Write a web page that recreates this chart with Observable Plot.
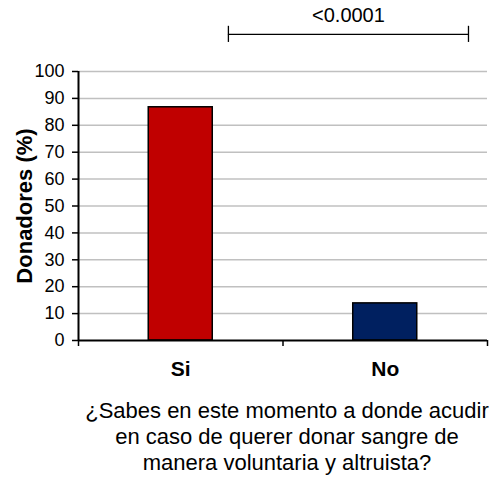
<!DOCTYPE html>
<html>
<head>
<meta charset="utf-8">
<script src="https://cdn.jsdelivr.net/npm/d3@7"></script>
<script src="https://cdn.jsdelivr.net/npm/@observablehq/plot@0.6"></script>
<style>
  body { margin: 0; background: #fff; font-family: "Liberation Sans", Arial, sans-serif; }
  #caption { width: 426px; padding-left: 74px; text-align: center; font-size: 22px; line-height: 26px; color: #000; }
</style>
</head>
<body>
<div id="chart"></div>
<div id="caption">¿Sabes en este momento a donde acudir<br>en caso de querer donar sangre de<br>manera voluntaria y altruista?</div>
<script>
const categories = ["Si", "No"];
const values = [86.7, 13.8];
const colors = ["#C00000", "#002060"];
const yTicks = [0, 10, 20, 30, 40, 50, 60, 70, 80, 90, 100];
const yLabel = "Donadores (%)";
// significance bracket (x in category-index units, y in %)
const bracketFrom = [0.733];
const bracketTo = [1.907];
const bracketLevel = [113.8];
const bracketEnds = [110.8, 116.8];
const bracketLabel = ["<0.0001"];
const bracketLabelLevel = [120.6];

const barFrac = 0.313;
const data = categories.map((c, i) => ({name: c, value: values[i], color: colors[i], i}));
const bounds = d3.range(categories.length + 1);

const plot = Plot.plot({
  width: 500,
  height: 398,
  marginTop: 71,
  marginBottom: 58,
  marginLeft: 78,
  marginRight: 13,
  style: {fontFamily: "'Liberation Sans', Arial, sans-serif", background: "#fff", color: "#000", overflow: "visible"},
  x: {domain: [0, categories.length], axis: null},
  y: {domain: [0, 100], axis: null},
  marks: [
    Plot.ruleY(yTicks.filter(t => t > 0), {stroke: "#c0c0c0", strokeWidth: 1.5}),
    Plot.rectY(data, {
      x1: d => d.i + (1 - barFrac) / 2,
      x2: d => d.i + (1 + barFrac) / 2,
      y1: 0, y2: "value",
      fill: d => d.color, stroke: "#000", strokeWidth: 1.5
    }),
    Plot.axisY({ticks: yTicks, tickSize: 6, tickPadding: 8, fontSize: 18, tickFormat: d => d, label: null, strokeWidth: 1.5}),
    Plot.axisX({ticks: bounds, tickSize: 6, tickFormat: () => "", label: null, strokeWidth: 1.5}),
    Plot.ruleX([0], {stroke: "#000", strokeWidth: 2}),
    Plot.ruleY([0], {stroke: "#000", strokeWidth: 2}),
    Plot.text(data, {x: d => d.i + 0.5, y: 0, dy: 29, text: "name", fontSize: 21, fontWeight: "bold"}),
    Plot.text([yLabel], {frameAnchor: "left", textAnchor: "middle", dx: -54, rotate: -90, text: d => d, fontSize: 22, fontWeight: "bold"}),
    Plot.ruleY(bracketLevel, {x1: bracketFrom[0], x2: bracketTo[0], stroke: "#000", strokeWidth: 1.3}),
    Plot.ruleX([bracketFrom[0], bracketTo[0]], {y1: bracketEnds[0], y2: bracketEnds[1], stroke: "#000", strokeWidth: 1.3}),
    Plot.text(bracketLabel, {x: (bracketFrom[0] + bracketTo[0]) / 2, y: bracketLabelLevel[0], text: d => d, fontSize: 20})
  ]
});
document.getElementById("chart").appendChild(plot);
</script>
</body>
</html>
